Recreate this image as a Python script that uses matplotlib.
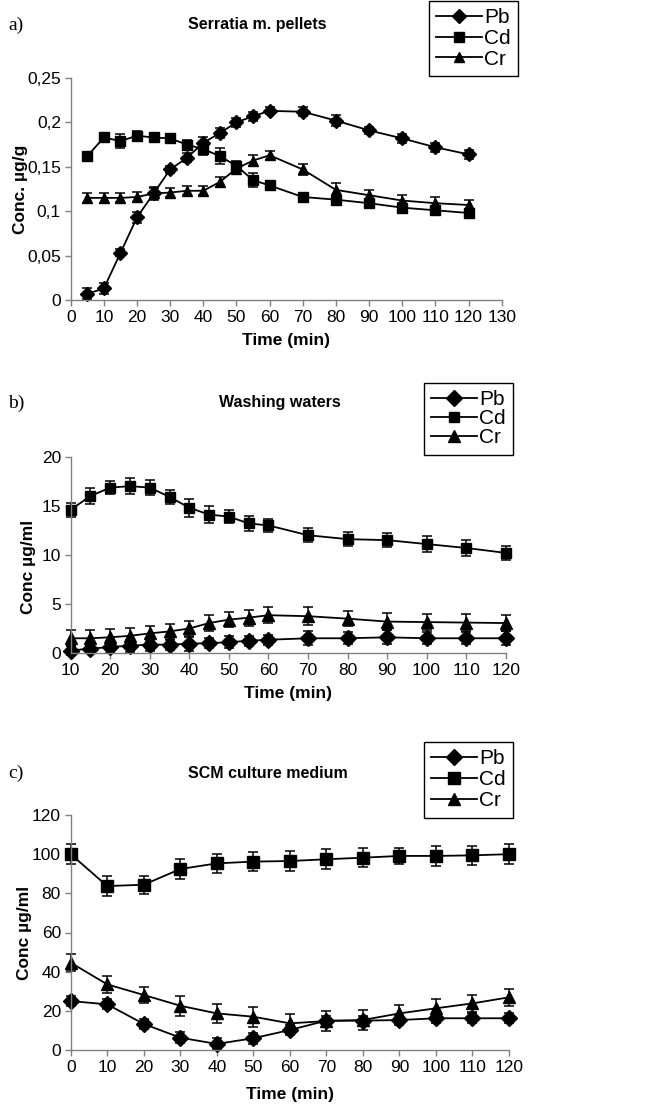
import matplotlib
matplotlib.use("Agg")
import matplotlib.pyplot as plt

plt.rcParams['font.family'] = ['Liberation Sans', 'DejaVu Sans']

# Werte aus dem Bild abgelesen
# a) Serratia m. pellets
zeit_a = [5, 10, 15, 20, 25, 30, 35, 40, 45, 50, 55, 60, 70, 80, 90, 100, 110, 120]
pb_a = [0.007, 0.013, 0.053, 0.093, 0.120, 0.147, 0.160, 0.177, 0.188, 0.200, 0.207, 0.213,
        0.212, 0.202, 0.191, 0.182, 0.172, 0.164]
pb_a_err = [0.006, 0.006, 0.004, 0.006, 0.006, 0.004, 0.005, 0.006, 0.006, 0.005, 0.005, 0.004,
            0.005, 0.006, 0.004, 0.005, 0.005, 0.005]
cd_a = [0.162, 0.183, 0.179, 0.185, 0.183, 0.182, 0.175, 0.170, 0.162, 0.151, 0.135, 0.129,
        0.116, 0.113, 0.109, 0.104, 0.101, 0.098]
cd_a_err = [0.005, 0.005, 0.008, 0.005, 0.005, 0.005, 0.005, 0.007, 0.009, 0.006, 0.008, 0.005,
            0.005, 0.005, 0.005, 0.005, 0.005, 0.005]
cr_a = [0.115, 0.115, 0.115, 0.116, 0.120, 0.121, 0.123, 0.123, 0.133, 0.148, 0.157, 0.163,
        0.147, 0.124, 0.118, 0.112, 0.109, 0.107]
cr_a_err = [0.006, 0.006, 0.005, 0.006, 0.007, 0.005, 0.005, 0.005, 0.006, 0.005, 0.006, 0.005,
            0.006, 0.008, 0.006, 0.006, 0.007, 0.006]
yticks_a = [0, 0.05, 0.1, 0.15, 0.2, 0.25]
yticklabels_a = ["0", "0,05", "0,1", "0,15", "0,2", "0,25"]

# b) Washing waters
zeit_b = [10, 15, 20, 25, 30, 35, 40, 45, 50, 55, 60, 70, 80, 90, 100, 110, 120]
pb_b = [0.25, 0.45, 0.6, 0.75, 0.85, 0.85, 0.95, 1.0, 1.1, 1.25, 1.35, 1.5, 1.5, 1.6, 1.5, 1.5, 1.5]
pb_b_err = [0.5, 0.5, 0.6, 0.6, 0.6, 0.5, 0.7, 0.5, 0.6, 0.5, 0.5, 0.7, 0.6, 0.7, 0.6, 0.6, 0.7]
cd_b = [14.6, 16.0, 16.85, 17.0, 16.85, 15.9, 14.8, 14.1, 13.9, 13.2, 13.0, 12.0, 11.6, 11.5,
        11.1, 10.7, 10.2]
cd_b_err = [0.7, 0.8, 0.7, 0.8, 0.8, 0.7, 0.9, 0.9, 0.7, 0.8, 0.7, 0.7, 0.7, 0.7, 0.8, 0.8, 0.7]
cr_b = [1.5, 1.5, 1.6, 1.75, 2.0, 2.2, 2.5, 3.05, 3.4, 3.6, 3.85, 3.75, 3.5, 3.2, 3.15, 3.1, 3.05]
cr_b_err = [0.8, 0.8, 0.8, 0.8, 0.8, 0.8, 0.8, 0.8, 0.8, 0.8, 0.8, 0.9, 0.8, 0.9, 0.8, 0.9, 0.8]
yticks_b = [0, 5, 10, 15, 20]

# c) SCM culture medium
zeit_c = [0, 10, 20, 30, 40, 50, 60, 70, 80, 90, 100, 110, 120]
pb_c = [25.0, 23.3, 13.3, 6.3, 3.1, 6.0, 10.2, 15.0, 15.0, 15.3, 16.2, 16.2, 16.2]
pb_c_err = [2.5, 2.5, 2.5, 2.8, 2.8, 2.8, 2.5, 2.5, 2.5, 2.5, 2.5, 2.5, 2.5]
cd_c = [100.0, 83.7, 84.4, 92.4, 95.3, 96.2, 96.5, 97.4, 98.2, 99.1, 99.1, 99.4, 100.0]
cd_c_err = [5, 5, 4.5, 5, 5, 5, 5, 5, 5, 4, 5, 5, 5]
cr_c = [44.6, 33.5, 28.1, 22.6, 18.7, 17.0, 13.6, 14.8, 15.3, 18.7, 21.3, 23.8, 26.9]
cr_c_err = [4.5, 4.5, 4, 5, 5, 5, 5, 5, 5, 4.5, 4.5, 4.5, 4.5]
yticks_c = [0, 20, 40, 60, 80, 100, 120]

namen = ["Pb", "Cd", "Cr"]
marker = ["D", "s", "^"]

W, H = 646, 1106
fig = plt.figure(figsize=(W / 100, H / 100), dpi=100)


def px(x0, y0, x1, y1):
    # Pixel-Rechteck -> Figur-Koordinaten
    return [x0 / W, 1 - y1 / H, (x1 - x0) / W, (y1 - y0) / H]


def panel(rect, zeit, reihen, fehler, msizes, xlim, xticks, ylim, yticks, ylabel,
          xlab_y, ylab_x, ylab_y, leg_anchor, leg_space):
    ax = fig.add_axes(rect)
    handles = []
    for werte, err, m, ms in zip(reihen, fehler, marker, msizes):
        eb = ax.errorbar(zeit, werte, yerr=err, color="black", marker=m, markersize=ms,
                         linewidth=1.3, elinewidth=1.1, capsize=3.5, capthick=1.1, clip_on=False)
        handles.append(eb[0])
    ax.set_xlim(*xlim)
    ax.set_ylim(*ylim)
    ax.set_xticks(xticks)
    ax.set_yticks(yticks)
    for s in ["top", "right"]:
        ax.spines[s].set_visible(False)
    for s in ["left", "bottom"]:
        ax.spines[s].set_color("#808080")
        ax.spines[s].set_linewidth(1.0)
    ax.tick_params(direction="out", length=4, width=1, color="#808080", labelsize=12.5, pad=3)
    ax.set_xlabel("Time (min)", fontsize=12.5, fontweight="bold")
    ax.xaxis.set_label_coords(0.5, xlab_y)
    ax.set_ylabel(ylabel, fontsize=12.5, fontweight="bold")
    ax.yaxis.set_label_coords(ylab_x, ylab_y)
    leg = fig.legend(handles, namen, loc="upper right", bbox_to_anchor=leg_anchor,
                     fontsize=15, frameon=True, fancybox=False, framealpha=1,
                     edgecolor="black", handlelength=2.2, handletextpad=0.1,
                     labelspacing=leg_space, borderpad=0.35, borderaxespad=0)
    leg.get_frame().set_linewidth(1.0)
    return ax


ax_a = panel(px(70.7, 78, 501.7, 300), zeit_a, [pb_a, cd_a, cr_a], [pb_a_err, cd_a_err, cr_a_err],
             [7, 7.5, 7.5], (0, 130), range(0, 131, 10), (0, 0.25), yticks_a, "Conc. µg/g",
             -0.15, -0.1, 0.5, (518 / W, 1 - 1 / H), 0.08)
ax_a.set_yticklabels(yticklabels_a)

ax_b = panel(px(70.7, 456.7, 505.7, 653), zeit_b, [pb_b, cd_b, cr_b], [pb_b_err, cd_b_err, cr_b_err],
             [8, 7.5, 8.5], (10, 120), range(10, 121, 10), (0, 20), yticks_b, "Conc µg/ml",
             -0.168, -0.08, 0.44, (513 / W, 1 - 383 / H), 0.0)

ax_c = panel(px(70.7, 815, 509, 1050), zeit_c, [pb_c, cd_c, cr_c], [pb_c_err, cd_c_err, cr_c_err],
             [8, 8, 9], (0, 120), range(0, 121, 10), (0, 120), yticks_c, "Conc µg/ml",
             -0.157, -0.088, 0.5, (513 / W, 1 - 742 / H), 0.1)

# Titel und Buchstaben
titel = ["Serratia m. pellets", "Washing waters", "SCM culture medium"]
titel_pos = [(257, 25), (280, 403), (268, 773)]
buchst = ["a)", "b)", "c)"]
buchst_pos = [(8, 25), (8, 403), (8, 773)]
for t, (x, y) in zip(titel, titel_pos):
    fig.text(x / W, 1 - y / H, t, ha="center", va="center", fontsize=11.5, fontweight="bold")
for t, (x, y) in zip(buchst, buchst_pos):
    fig.text(x / W, 1 - y / H, t, ha="left", va="center", fontsize=14,
             family=["Liberation Serif", "DejaVu Serif"])

fig.savefig("out.png", dpi=100)
